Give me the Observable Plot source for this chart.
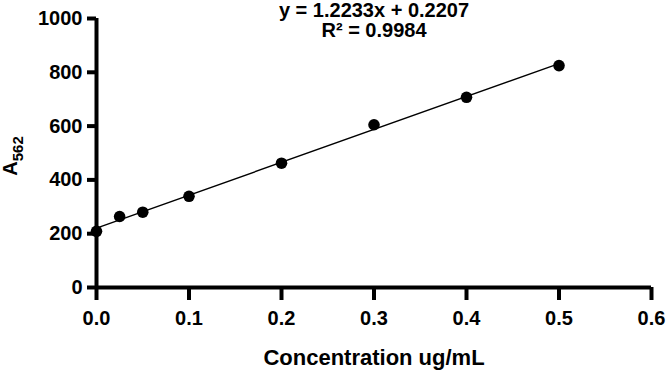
<!DOCTYPE html>
<html>
<head>
<meta charset="utf-8">
<script src="https://cdn.jsdelivr.net/npm/d3@7"></script>
<script src="https://cdn.jsdelivr.net/npm/@observablehq/plot@0.6"></script>
<style>
  html, body { margin: 0; padding: 0; background: white; }
</style>
</head>
<body>
<div id="chart"></div>
<script>
// Data
const concentrations = [0, 0.025, 0.05, 0.1, 0.2, 0.3, 0.4, 0.5];
const absorbance = [209, 264, 280, 339, 462, 605, 707, 825];
const xTicks = [0, 0.1, 0.2, 0.3, 0.4, 0.5, 0.6];
const yTicks = [0, 200, 400, 600, 800, 1000];
// Linear fit shown in the chart (y = 1.2233x + 0.2207, in thousands)
const fitSlope = 1223.3;
const fitIntercept = 220.7;
const fitRange = [0, 0.5];
const equationLine1 = "y = 1.2233x + 0.2207";
const equationLine2 = "R² = 0.9984";
const xLabel = "Concentration ug/mL";

const points = concentrations.map((c, i) => ({x: c, y: absorbance[i]}));
const fit = fitRange.map(x => ({x, y: fitSlope * x + fitIntercept}));

const font = "'Liberation Sans', Arial, Helvetica, sans-serif";
const axisWidth = 4;

const chart = Plot.plot({
  width: 666,
  height: 370,
  marginLeft: 96,
  marginRight: 15,
  marginTop: 18,
  marginBottom: 83,
  style: {fontFamily: font, fontSize: "20px", fontWeight: "bold", color: "black", background: "white", overflow: "visible"},
  x: {domain: [0, 0.6]},
  y: {domain: [0, 1000]},
  marks: [
    // tick labels (tick lines drawn below as thick rules)
    Plot.axisX({ticks: xTicks, tickFormat: d3.format(".1f"), tickSize: 0, tickPadding: 23, label: null, fontSize: 20}),
    Plot.axisY({ticks: yTicks, tickFormat: d3.format("d"), tickSize: 0, tickPadding: 14, label: null, fontSize: 20}),
    // thick outward tick marks
    Plot.ruleX(xTicks, {x: d => d, y1: 0, y2: 0, insetBottom: -13, stroke: "black", strokeWidth: axisWidth}),
    Plot.ruleY(yTicks, {y: d => d, x1: 0, x2: 0, insetLeft: -9, stroke: "black", strokeWidth: axisWidth}),
    // axis lines
    Plot.ruleX([0], {strokeWidth: axisWidth, stroke: "black"}),
    Plot.ruleY([0], {strokeWidth: axisWidth, stroke: "black"}),
    Plot.line(fit, {x: "x", y: "y", stroke: "black", strokeWidth: 1.4}),
    Plot.dot(points, {x: "x", y: "y", r: 5.8, fill: "black", stroke: "none"}),
    Plot.text([equationLine1], {text: d => d, frameAnchor: "top", lineAnchor: "bottom", dy: -2, fontSize: 20, fill: "black", fontWeight: "bold"}),
    Plot.text([equationLine2], {text: d => d, frameAnchor: "top", lineAnchor: "bottom", dy: 18, fontSize: 20, fill: "black", fontWeight: "bold"}),
    Plot.text([xLabel], {text: d => d, frameAnchor: "bottom", lineAnchor: "bottom", dy: 77, fontSize: 22, fill: "black", fontWeight: "bold"})
  ]
});

// Y axis label with subscript
const yl = d3.select(chart).append("text")
  .attr("transform", "translate(17,156) rotate(-90)")
  .attr("text-anchor", "middle")
  .attr("font-family", font)
  .attr("font-weight", "bold")
  .attr("fill", "black");
yl.append("tspan").attr("font-size", 20).text("A");
yl.append("tspan").attr("font-size", 15).attr("dy", 6).text("562");

document.getElementById("chart").appendChild(chart);
</script>
</body>
</html>
